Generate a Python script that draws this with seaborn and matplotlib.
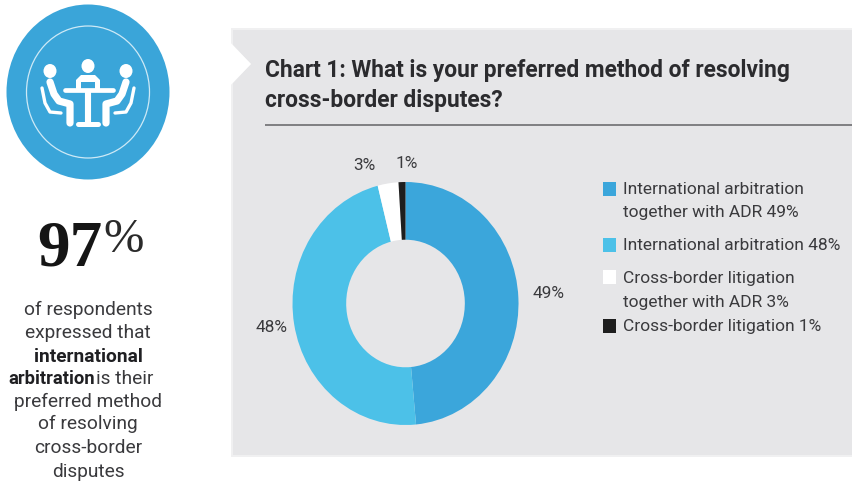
import matplotlib
matplotlib.use("Agg")
import matplotlib.pyplot as plt
import seaborn as sns
from matplotlib.patches import Ellipse, Polygon, Rectangle

sns.set_theme(style="white")
plt.rcParams["font.family"] = ["Roboto", "DejaVu Sans"]

# Survey results
methods = ["International arbitration\ntogether with ADR 49%", "International arbitration 48%",
           "Cross-border litigation\ntogether with ADR 3%", "Cross-border litigation 1%"]
shares = [49, 48, 3, 1]
share_labels = ["49%", "48%", "3%", "1%"]
colours = ["#3BA6DB", "#4CC1E8", "#FFFFFF", "#1E1E1E"]

W, H = 852, 482
PANEL = "#E6E6E8"
INK = "#2B2B2E"
BODY = "#3A3A3D"
BLUE = "#3AA5D9"

fig = plt.figure(figsize=(W / 100, H / 100), dpi=100, facecolor="white")

# Page canvas measured in pixels, origin at the top left
page = fig.add_axes([0, 0, 1, 1])
page.set_xlim(0, W)
page.set_ylim(H, 0)
page.axis("off")

# Grey panel with its soft edge and arrow notch
page.add_patch(Rectangle((231, 28), 621, 429, fc="#F0F0F1", ec="none"))
page.add_patch(Polygon([(233, 30), (852, 30), (852, 455), (233, 455), (233, 83),
                        (251, 64), (233, 45)], closed=True, fc=PANEL, ec="none"))
page.add_patch(Polygon([(226, 38), (251, 64), (226, 90)], closed=True, fc="white", ec="none"))

page.text(265, 71, "Chart 1: What is your preferred method of resolving", fontsize=16.4,
          fontweight="bold", color=INK, va="center", ha="left")
page.text(265, 100, "cross-border disputes?", fontsize=16.4, fontweight="bold",
          color=INK, va="center", ha="left")
page.plot([265, 852], [125, 125], color="#77777A", lw=1.3, solid_capstyle="butt")

# Round badge
page.add_patch(Ellipse((88, 92), 163, 175, fc=BLUE, ec="none"))
page.add_patch(Ellipse((88, 92), 123, 132, fc="none", ec="#CDE9F6", lw=0.9))

# Meeting icon: three seated people around a table
for cx, cy in [(50, 71), (88, 66), (126, 71)]:
    page.add_patch(Ellipse((cx, cy), 13, 14, fc="white", ec="none"))
icon = dict(color="white", solid_capstyle="round", solid_joinstyle="round")
page.plot([65, 113], [90, 90], lw=3.4, **icon)
page.plot([88, 88], [92, 123], lw=4.4, **icon)
page.plot([78, 98], [124, 124], lw=3.6, **icon)
page.add_patch(Polygon([(76, 90), (76, 80), (81, 75), (95, 75), (100, 80), (100, 90),
                        (95, 90), (95, 82), (81, 82), (81, 90)], closed=True, fc="white", ec="none"))
page.plot([50, 54, 59, 70, 70], [82, 94, 101, 104, 123], lw=5.2, **icon)
page.plot([126, 122, 117, 106, 106], [82, 94, 101, 104, 123], lw=5.2, **icon)
page.plot([42, 45, 50, 61], [88, 103, 112, 113], lw=2.4, **icon)
page.plot([134, 131, 126, 115], [88, 103, 112, 113], lw=2.4, **icon)

# Headline figure
page.text(37, 266, "97", family=["Liberation Serif", "DejaVu Serif"], fontsize=47, fontweight="bold",
          color="#151515", va="baseline", ha="left")
page.text(103, 252, "%", family=["Liberation Serif", "DejaVu Serif"], fontsize=35, color="#2A2A2A",
          va="baseline", ha="left")

# Supporting copy, one line at a time
copy_lines = [("of respondents", "normal", 310), ("expressed that", "normal", 333),
              ("international", "bold", 357), ("arbitration is their", "mixed", 379),
              ("preferred method", "normal", 402), ("of resolving", "normal", 424),
              ("cross-border", "normal", 448), ("disputes", "normal", 472)]
for line, weight, y in copy_lines:
    if weight == "mixed":
        page.text(8, y, "arbitration", fontsize=13.2, fontweight="bold", color="#1F1F22", va="center", ha="left")
        page.text(96, y, "is their", fontsize=13.8, color=BODY, va="center", ha="left")
    else:
        page.text(88, y, line, fontsize=13.8, fontweight=weight, color="#1F1F22" if weight == "bold" else BODY,
                  va="center", ha="center")

# Doughnut, slightly squeezed horizontally like the rest of the page
cx, cy, rx, ry = 405.5, 303.5, 113, 121.5
donut = fig.add_axes([(cx - rx) / W, 1 - (cy + ry) / H, 2 * rx / W, 2 * ry / H])
donut.pie(shares, colors=colours, startangle=90, counterclock=False, radius=1,
          wedgeprops=dict(width=0.475, edgecolor="none"))
donut.set_xlim(-1, 1)
donut.set_ylim(-1, 1)
donut.set_aspect("auto")
donut.patch.set_alpha(0)

for text, x, y in zip(share_labels, [549, 272, 364, 407], [294, 327, 165, 163]):
    page.text(x, y, text, fontsize=12.4, color=BODY, va="center", ha="center")

# Legend
swatch_y = [189, 245, 277, 326]
text_y = [[189, 213], [246], [278, 302], [326]]
for colour, label, sy, ys in zip(colours, methods, swatch_y, text_y):
    page.add_patch(Rectangle((603, sy - 7), 13, 14, fc=colour, ec="none"))
    for part, y in zip(label.split("\n"), ys):
        page.text(623, y, part, fontsize=12.5, color=BODY, va="center", ha="left")

fig.savefig("out.png", dpi=100, facecolor="white")
